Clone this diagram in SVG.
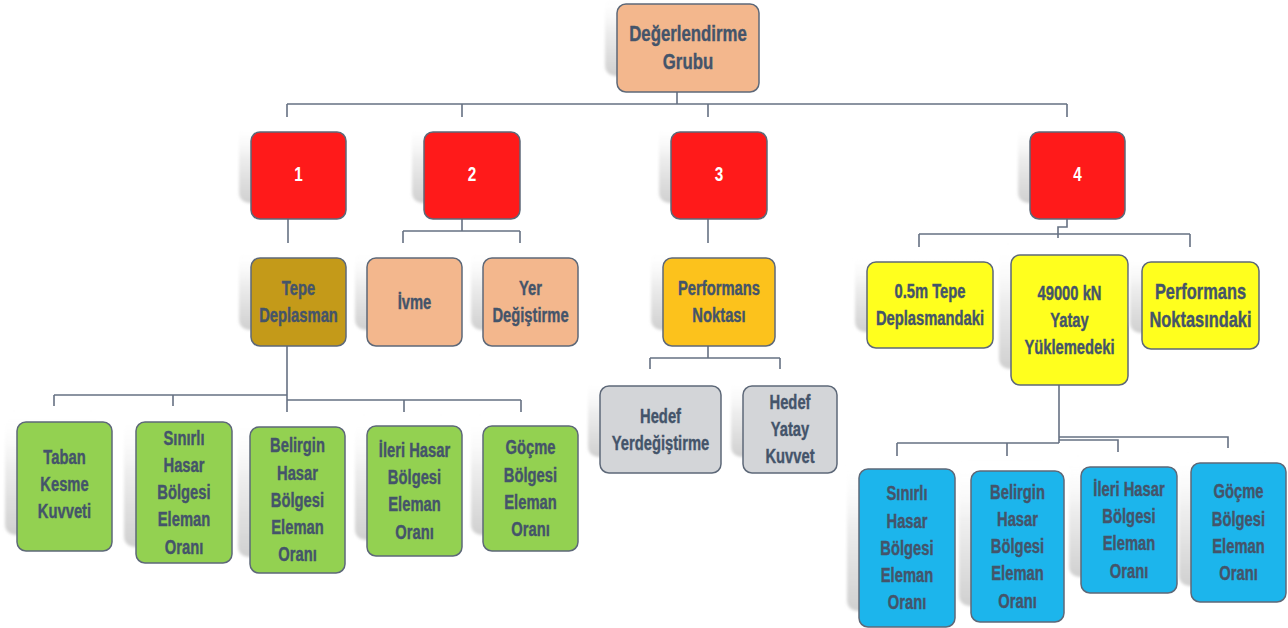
<svg xmlns="http://www.w3.org/2000/svg" width="1288" height="628" viewBox="0 0 1288 628">
<defs>
<linearGradient id="sh" x1="0" y1="0" x2="0" y2="1">
<stop offset="0" stop-color="#ffffff" stop-opacity="0"/>
<stop offset="0.45" stop-color="#ededed"/>
<stop offset="1" stop-color="#d0d0d0"/>
</linearGradient>
<filter id="blur" x="-10%" y="-10%" width="120%" height="120%"><feGaussianBlur stdDeviation="1.5"/></filter>
</defs>
<style>
.s{fill:url(#sh);filter:url(#blur)}
.b{stroke:#5d6878;stroke-width:1.5}
.peach{fill:#f3b78d}
.red{fill:#ff1a1a}
.gold{fill:#c49a19}
.amber{fill:#fcc21c}
.gray{fill:#d3d5d8}
.yel{fill:#ffff1e}
.green{fill:#93d151}
.blue{fill:#1cb5ec}
.t{font-family:"Liberation Sans Narrow","Arial Narrow","Liberation Sans",Arial,sans-serif;font-weight:bold;font-size:18px;fill:#44546a;stroke:#44546a;stroke-width:0.35;text-anchor:middle;transform-box:fill-box;transform-origin:center;transform:scale(0.82,1.12)}
.n{font-family:"Liberation Sans",Arial,sans-serif;font-weight:bold;font-size:18px;fill:#ffffff;text-anchor:middle;transform-box:fill-box;transform-origin:center;transform:scale(0.85,1.08)}
.big{font-size:20.5px}
.c{fill:none;stroke:#667183;stroke-width:1.6}
</style>
<rect width="1288" height="628" fill="#ffffff"/>

<g id="connectors" class="c">
<path d="M677 92V104M287 104H1067M287 104V117M462 104V117M708 104V117M1067 104V117"/>
<path d="M288 219V243"/>
<path d="M462 219V231M403 231H520M403 231V243M520 231V243"/>
<path d="M708 219V243"/>
<path d="M1067 219V227H1058V238M919 234H1190M919 234V247M1190 234V247"/>
<path d="M287 346V412M54 395H287M54 395V406M173 395V406M287 400H521M404 400V412M521 400V412"/>
<path d="M708 346V358M650 358H780M650 358V369M780 358V369"/>
<path d="M1059 385V443M897 443H1059M897 443V456M1007 443V456M1059 440H1118V452M1059 437H1228V448"/>
</g>

<g id="root">
<rect class="s" x="605" y="-6" width="142" height="82" rx="10"/>
<rect class="b peach" x="617" y="4" width="142" height="88" rx="9"/>
<text class="t big"><tspan x="688" y="42">Değerlendirme</tspan><tspan x="688" y="67">Grubu</tspan></text>
</g>

<g id="n1">
<rect class="s" x="239" y="122" width="95" height="81" rx="10"/>
<rect class="b red" x="251" y="132" width="95" height="87" rx="9"/>
<text class="n" x="298.5" y="181">1</text>
</g>
<g id="n2">
<rect class="s" x="412" y="122" width="96" height="81" rx="10"/>
<rect class="b red" x="424" y="132" width="96" height="87" rx="9"/>
<text class="n" x="472" y="181">2</text>
</g>
<g id="n3">
<rect class="s" x="659" y="122" width="96" height="81" rx="10"/>
<rect class="b red" x="671" y="132" width="96" height="87" rx="9"/>
<text class="n" x="719" y="181">3</text>
</g>
<g id="n4">
<rect class="s" x="1018" y="122" width="95" height="81" rx="10"/>
<rect class="b red" x="1030" y="132" width="95" height="87" rx="9"/>
<text class="n" x="1077.5" y="181">4</text>
</g>

<g id="tepe">
<rect class="s" x="239" y="248" width="95" height="82" rx="10"/>
<rect class="b gold" x="251" y="258" width="95" height="88" rx="9"/>
<text class="t"><tspan x="298.5" y="296">Tepe</tspan><tspan x="298.5" y="320">Deplasman</tspan></text>
</g>
<g id="ivme">
<rect class="s" x="355" y="248" width="95" height="82" rx="10"/>
<rect class="b peach" x="367" y="258" width="95" height="88" rx="9"/>
<text class="t"><tspan x="414.5" y="308">İvme</tspan></text>
</g>
<g id="yer">
<rect class="s" x="471" y="248" width="95" height="82" rx="10"/>
<rect class="b peach" x="483" y="258" width="95" height="88" rx="9"/>
<text class="t"><tspan x="530.5" y="296">Yer</tspan><tspan x="530.5" y="320">Değiştirme</tspan></text>
</g>
<g id="perf">
<rect class="s" x="651" y="248" width="112" height="82" rx="10"/>
<rect class="b amber" x="663" y="258" width="112" height="88" rx="9"/>
<text class="t"><tspan x="719" y="296">Performans</tspan><tspan x="719" y="320">Noktası</tspan></text>
</g>
<g id="hedef1">
<rect class="s" x="588" y="376" width="121" height="81" rx="10"/>
<rect class="b gray" x="600" y="386" width="121" height="87" rx="9"/>
<text class="t"><tspan x="660.5" y="423.4">Hedef</tspan><tspan x="660.5" y="447.6">Yerdeğiştirme</tspan></text>
</g>
<g id="hedef2">
<rect class="s" x="731" y="376" width="94" height="81" rx="10"/>
<rect class="b gray" x="743" y="386" width="94" height="87" rx="9"/>
<text class="t"><tspan x="790" y="411.2">Hedef</tspan><tspan x="790" y="435.5">Yatay</tspan><tspan x="790" y="459.8">Kuvvet</tspan></text>
</g>
<g id="y1">
<rect class="s" x="855" y="252" width="126" height="80" rx="10"/>
<rect class="b yel" x="867" y="262" width="126" height="86" rx="9"/>
<text class="t"><tspan x="930" y="298.9">0.5m Tepe</tspan><tspan x="930" y="323.1">Deplasmandaki</tspan></text>
</g>
<g id="y2">
<rect class="s" x="999" y="245" width="117" height="124" rx="10"/>
<rect class="b yel" x="1011" y="255" width="117" height="130" rx="9"/>
<text class="t"><tspan x="1069.5" y="301.7">49000 kN</tspan><tspan x="1069.5" y="326">Yatay</tspan><tspan x="1069.5" y="350.3">Yüklemedeki</tspan></text>
</g>
<g id="y3">
<rect class="s" x="1130" y="252" width="117" height="81" rx="10"/>
<rect class="b yel" x="1142" y="262" width="117" height="87" rx="9"/>
<text class="t big" style="font-size:20px"><tspan x="1200.5" y="299.7">Performans</tspan><tspan x="1200.5" y="324.7">Noktasındaki</tspan></text>
</g>

<g id="g1">
<rect class="s" x="5" y="412" width="95" height="123" rx="10"/>
<rect class="b green" x="17" y="422" width="95" height="129" rx="9"/>
<text class="t"><tspan x="64.5" y="466">Taban</tspan><tspan x="64.5" y="490.3">Kesme</tspan><tspan x="64.5" y="514.6">Kuvveti</tspan></text>
</g>
<g id="g2">
<rect class="s" x="124" y="412" width="96" height="135" rx="10"/>
<rect class="b green" x="136" y="422" width="96" height="141" rx="9"/>
<text class="t"><tspan x="184" y="449.9">Sınırlı</tspan><tspan x="184" y="474.2">Hasar</tspan><tspan x="184" y="498.5">Bölgesi</tspan><tspan x="184" y="522.8">Eleman</tspan><tspan x="184" y="547.1">Oranı</tspan></text>
</g>
<g id="g3">
<rect class="s" x="238" y="417" width="95" height="140" rx="10"/>
<rect class="b green" x="250" y="427" width="95" height="146" rx="9"/>
<text class="t"><tspan x="297.5" y="457.4">Belirgin</tspan><tspan x="297.5" y="481.7">Hasar</tspan><tspan x="297.5" y="506">Bölgesi</tspan><tspan x="297.5" y="530.3">Eleman</tspan><tspan x="297.5" y="554.6">Oranı</tspan></text>
</g>
<g id="g4">
<rect class="s" x="355" y="416" width="95" height="124" rx="10"/>
<rect class="b green" x="367" y="426" width="95" height="130" rx="9"/>
<text class="t"><tspan x="414.5" y="460.6">İleri Hasar</tspan><tspan x="414.5" y="484.9">Bölgesi</tspan><tspan x="414.5" y="509.2">Eleman</tspan><tspan x="414.5" y="533.5">Oranı</tspan></text>
</g>
<g id="g5">
<rect class="s" x="471" y="416" width="95" height="119" rx="10"/>
<rect class="b green" x="483" y="426" width="95" height="125" rx="9"/>
<text class="t"><tspan x="530.5" y="458.1">Göçme</tspan><tspan x="530.5" y="482.4">Bölgesi</tspan><tspan x="530.5" y="506.7">Eleman</tspan><tspan x="530.5" y="531">Oranı</tspan></text>
</g>

<g id="b1">
<rect class="s" x="847" y="459" width="96" height="152" rx="10"/>
<rect class="b blue" x="859" y="469" width="96" height="158" rx="9"/>
<text class="t"><tspan x="907" y="505.4">Sınırlı</tspan><tspan x="907" y="529.7">Hasar</tspan><tspan x="907" y="554">Bölgesi</tspan><tspan x="907" y="578.3">Eleman</tspan><tspan x="907" y="602.6">Oranı</tspan></text>
</g>
<g id="b2">
<rect class="s" x="959" y="461" width="93" height="145" rx="10"/>
<rect class="b blue" x="971" y="471" width="93" height="151" rx="9"/>
<text class="t"><tspan x="1017.5" y="503.9">Belirgin</tspan><tspan x="1017.5" y="528.2">Hasar</tspan><tspan x="1017.5" y="552.5">Bölgesi</tspan><tspan x="1017.5" y="576.8">Eleman</tspan><tspan x="1017.5" y="601.1">Oranı</tspan></text>
</g>
<g id="b3">
<rect class="s" x="1069" y="457" width="96" height="120" rx="10"/>
<rect class="b blue" x="1081" y="467" width="96" height="126" rx="9"/>
<text class="t"><tspan x="1129" y="499.6">İleri Hasar</tspan><tspan x="1129" y="523.9">Bölgesi</tspan><tspan x="1129" y="548.2">Eleman</tspan><tspan x="1129" y="572.5">Oranı</tspan></text>
</g>
<g id="b4">
<rect class="s" x="1179" y="453" width="95" height="133" rx="10"/>
<rect class="b blue" x="1191" y="463" width="95" height="139" rx="9"/>
<text class="t"><tspan x="1238.5" y="502">Göçme</tspan><tspan x="1238.5" y="526.4">Bölgesi</tspan><tspan x="1238.5" y="550.7">Eleman</tspan><tspan x="1238.5" y="575">Oranı</tspan></text>
</g>
</svg>
